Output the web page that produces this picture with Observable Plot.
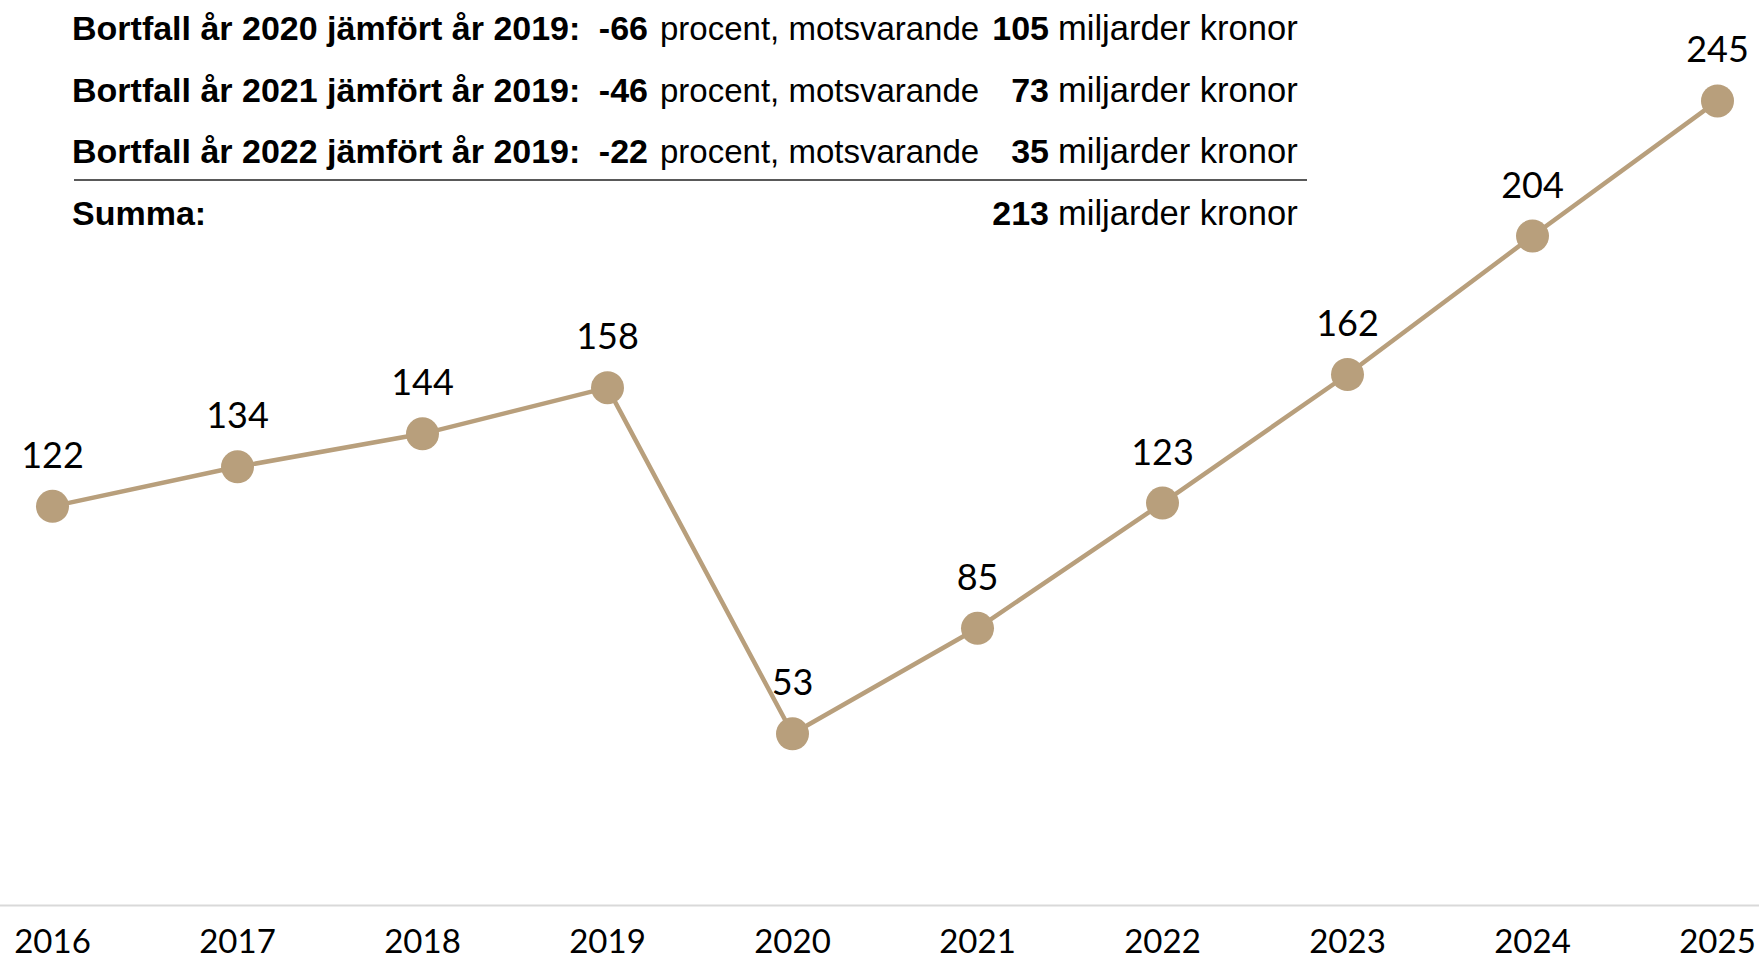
<!DOCTYPE html>
<html><head><meta charset="utf-8">
<script src="https://cdn.jsdelivr.net/npm/d3@7"></script>
<script src="https://cdn.jsdelivr.net/npm/@observablehq/plot@0.6"></script>
<style>
html,body{margin:0;padding:0;background:#fff;}
#wrap{position:relative;width:1759px;height:963px;overflow:hidden;}
#table{position:absolute;left:0;top:0;width:1759px;height:240px;font-family:"Liberation Sans Narrow","Liberation Sans",sans-serif;font-size:33px;color:#000;}
.cell{position:absolute;white-space:nowrap;line-height:1;transform:translateY(-50%);}
.b{font-weight:bold;font-size:34px;}
.m{font-size:34.5px;}
.r{transform:translate(-100%,-50%);}
.rule{position:absolute;left:74px;width:1233px;top:179px;height:2px;background:#595959;}
</style>
</head><body><div id="wrap"><div id="chart"></div><div id="table"></div></div>
<script>
const years = [2016, 2017, 2018, 2019, 2020, 2021, 2022, 2023, 2024, 2025];
const values = [122, 134, 144, 158, 53, 85, 123, 162, 204, 245];
const lossYears = [2020, 2021, 2022];
const baseYear = 2019;
const lossPercent = [-66, -46, -22];
const lossBillions = [105, 73, 35];
const lossTotal = 213;

const data = years.map((year, i) => ({year, value: values[i]}));
const color = "#b89f7c";

const chart = Plot.plot({
  width: 1759, height: 963,
  marginLeft: 0, marginRight: 0, marginTop: 18, marginBottom: 55,
  style: {fontFamily: "Lato, sans-serif", background: "#fff", color: "#000"},
  x: {type: "point", domain: years, range: [49, 1719], padding: 0},
  y: {domain: [0, 270], axis: null},
  marks: [
    Plot.ruleY([0], {stroke: "#d9d9d9", strokeWidth: 2, dy: -3}),
    Plot.axisX({tickSize: 0, tickPadding: 21, fontSize: 33, label: null, tickFormat: d => String(d)}),
    Plot.line(data, {x: "year", y: "value", stroke: color, strokeWidth: 4.5}),
    Plot.dot(data, {x: "year", y: "value", r: 16.5, fill: color}),
    Plot.text(data, {x: "year", y: "value", text: d => String(d.value), dy: -50, fontSize: 36, fill: "#000"})
  ]
});
document.getElementById("chart").appendChild(chart);

const table = document.getElementById("table");
function cell(txt, x, y, cls) {
  const el = document.createElement("div");
  el.className = "cell " + (cls || "");
  el.textContent = txt;
  el.style.left = x + "px";
  el.style.top = y + "px";
  table.appendChild(el);
}
const rowY = [28, 90, 151];
lossYears.forEach((yr, i) => {
  const y = rowY[i];
  cell(`Bortfall år ${yr} jämfört år ${baseYear}:`, 72, y, "b");
  cell(String(lossPercent[i]), 648, y, "b r");
  cell("procent, motsvarande", 660, y, "");
  cell(String(lossBillions[i]), 1049, y, "b r");
  cell("miljarder kronor", 1058, y, "m");
});
const rule = document.createElement("div");
rule.className = "rule";
table.appendChild(rule);
cell("Summa:", 72, 213, "b");
cell(String(lossTotal), 1049, 213, "b r");
cell("miljarder kronor", 1058, 213, "m");
</script>
</body></html>
